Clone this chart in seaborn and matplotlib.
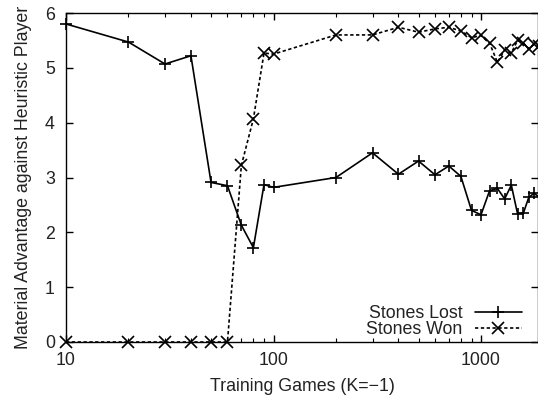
import matplotlib
matplotlib.use("Agg")
import matplotlib.pyplot as plt
import seaborn as sns
import pandas as pd
import numpy as np
from matplotlib.ticker import LogLocator, NullFormatter

games = [10, 20, 30, 40, 50, 60, 70, 80, 90, 100, 200, 300, 400, 500, 600, 700,
         800, 900, 1000, 1100, 1200, 1300, 1400, 1500, 1600, 1700, 1800, 1900]
stones_lost = [5.80, 5.47, 5.07, 5.22, 2.91, 2.85, 2.13, 1.72, 2.87, 2.82, 3.00,
               3.45, 3.06, 3.30, 3.05, 3.21, 3.02, 2.40, 2.32, 2.76, 2.80, 2.61,
               2.86, 2.34, 2.35, 2.64, 2.71, 2.65]
stones_won = [0, 0, 0, 0, 0, 0, 3.22, 4.07, 5.27, 5.25, 5.60, 5.60, 5.74, 5.65,
              5.71, 5.74, 5.67, 5.55, 5.59, 5.45, 5.10, 5.33, 5.27, 5.50, 5.45,
              5.35, 5.43, 5.40]
y_ticks = [0, 1, 2, 3, 4, 5, 6]
x_ticks = [10, 100, 1000]

sns.set_style("ticks")
plt.rcParams["font.family"] = ["Liberation Sans", "DejaVu Sans"]
plt.rcParams["axes.linewidth"] = 1.0

FS = 12.8
TXT = "#222222"

fig = plt.figure(figsize=(5.38, 3.97), dpi=100)
ax = fig.add_axes([66/538, 1-342/397, 1-66/538, (342-13)/397])

df_lost = pd.DataFrame({"x": games, "y": stones_lost})
df_won = pd.DataFrame({"x": games, "y": stones_won})

sns.lineplot(data=df_lost, x="x", y="y", ax=ax, color="black", marker="+",
             markersize=9, markeredgewidth=1.2, markeredgecolor="black",
             linewidth=1.2, label="Stones Lost")
sns.lineplot(data=df_won, x="x", y="y", ax=ax, color="black", marker="x",
             markersize=8, markeredgewidth=1.2, markeredgecolor="black",
             linewidth=1.2, label="Stones Won")
ax.lines[0].set_linestyle("-")
ax.lines[1].set_linestyle((0, (2, 1.5)))
for ln in ax.lines:
    ln.set_clip_on(False)
    ln.set_zorder(3)

ax.set_xscale("log")
xmax = 10 ** (1 + (538 - 66) / 207.5)
ax.set_xlim(10, xmax)
ax.set_ylim(0, 6)
ax.set_yticks(y_ticks)
ax.set_xticks(x_ticks)
ax.set_xticklabels([str(v) for v in x_ticks])
ax.xaxis.set_minor_locator(LogLocator(base=10, subs=np.arange(2, 10)))
ax.xaxis.set_minor_formatter(NullFormatter())

ax.tick_params(which="both", direction="in", top=True, right=True,
               labelsize=FS, colors="black", labelcolor=TXT)
ax.tick_params(which="major", length=5, width=1.0)
ax.tick_params(which="minor", length=3, width=0.8)
ax.tick_params(axis="x", pad=7)
ax.tick_params(axis="y", pad=8)

ax.set_xlabel("Training Games (K=\u22121)", fontsize=FS, color=TXT, labelpad=7)
ax.set_ylabel("Material Advantage against Heuristic Player", fontsize=FS,
              color=TXT, labelpad=9)

for s in ax.spines.values():
    s.set_color("black")

leg = ax.legend(loc="lower right", bbox_to_anchor=(0.981, -0.009), markerfirst=False,
                frameon=False, fontsize=FS, handlelength=2.65, handletextpad=0.7,
                labelspacing=-0.05, borderaxespad=0.0)
for t in leg.get_texts():
    t.set_color(TXT)

fig.savefig("out.png", dpi=100)
